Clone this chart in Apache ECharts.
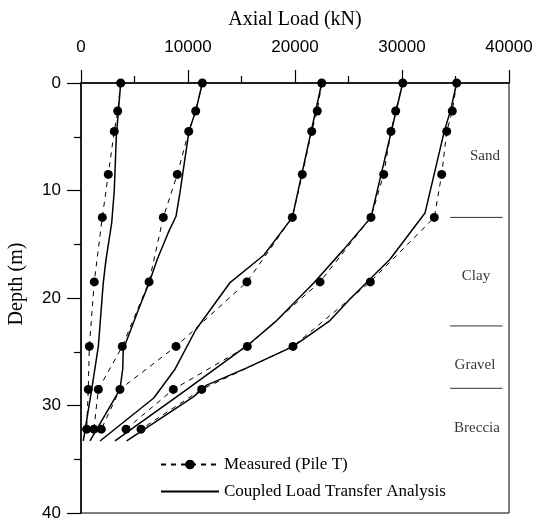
<!DOCTYPE html>
<html>
<head>
<meta charset="utf-8">
<script src="https://cdn.jsdelivr.net/npm/echarts@6/dist/echarts.min.js"></script>
<style>
html,body{margin:0;padding:0;background:#fff;}
#chart{width:543px;height:519px;}
</style>
</head>
<body>
<div id="chart"></div>
<script>
// ---- Data ----
const xTicks = [0, 10000, 20000, 30000, 40000];
const yTicks = [0, 10, 20, 30, 40];

// Measured (Pile T): depth levels (m) and axial loads (kN) for 5 load steps
const measuredDepths = [0, 2.6, 4.5, 8.5, 12.5, 18.5, 24.5, 28.5, 32.2];
const measured1 = [3710, 3430, 3110, 2550, 1990, 1240, 780, 680, 530];
const measured2 = [11340, 10720, 10070, 9000, 7690, 6360, 3860, 1620, 1210];
const measured3 = [22500, 22080, 21560, 20680, 19750, 15510, 8880, 3640, 1900];
const measured4 = [30070, 29410, 28970, 28290, 27100, 22340, 15540, 8630, 4210];
const measured5 = [35110, 34700, 34180, 33710, 33020, 27040, 19810, 11280, 5610];

// Coupled load transfer analysis curves
const computed1Depths = [0, 5, 10, 13, 16.4, 18.6, 24.5, 28.5, 33.3];
const computed1 = [3710, 3300, 3110, 2870, 2340, 2080, 1620, 1000, 215];
const computed2Depths = [0, 2.5, 4.5, 10.2, 12.4, 13.9, 16.4, 18.6, 21.1, 24.8, 26.6, 28.5, 33.3];
const computed2 = [11340, 10750, 10090, 9250, 8880, 8160, 7130, 6360, 5360, 3950, 3900, 3640, 840];
const computed3Depths = [0, 12.5, 16, 18.6, 23, 26.6, 29.3, 33.3];
const computed3 = [22500, 19750, 17100, 13900, 10700, 8800, 6800, 1780];
const computed4Depths = [0, 12.5, 15.5, 18.6, 22.1, 24.3, 28.5, 29.4, 33.3];
const computed4 = [30070, 27100, 24540, 21750, 18290, 15700, 9900, 8630, 3180];
const computed5Depths = [0, 2.5, 4.5, 12.1, 16.4, 20.1, 22.1, 24.5, 26.5, 28.1, 29.2, 33.3];
const computed5 = [35110, 34550, 33950, 32150, 28880, 25140, 23270, 19840, 15500, 11750, 10500, 4270];

// Soil layers
const soilNames = ['Sand', 'Clay', 'Gravel', 'Breccia'];
const soilLabelDepths = [6.8, 18.0, 26.2, 32.1];
const boundaryDepths = [12.5, 22.6, 28.4];

// ---- Build chart ----
const measured = [measured1, measured2, measured3, measured4, measured5];
const computedLoads = [computed1, computed2, computed3, computed4, computed5];
const computedDepths = [computed1Depths, computed2Depths, computed3Depths, computed4Depths, computed5Depths];

const SERIF = 'Liberation Serif';
const SANS = 'Liberation Sans';
const series = [];

measured.forEach(function (loads) {
  series.push({
    name: 'Measured (Pile T)',
    type: 'line',
    data: measuredDepths.map(function (d, i) { return [loads[i], d]; }),
    symbol: 'circle',
    symbolSize: 9,
    itemStyle: { color: '#000' },
    lineStyle: { color: '#000', width: 1, type: [5, 5] },
    z: 3,
    animation: false
  });
});
computedLoads.forEach(function (loads, k) {
  series.push({
    name: 'Coupled Load Transfer Analysis',
    type: 'line',
    data: computedDepths[k].map(function (d, i) { return [loads[i], d]; }),
    symbol: 'none',
    itemStyle: { color: '#000' },
    lineStyle: { color: '#000', width: 1.5 },
    z: 4,
    animation: false
  });
});
boundaryDepths.forEach(function (d) {
  series.push({
    type: 'line',
    data: [[34500, d], [39400, d]],
    symbol: 'none',
    lineStyle: { color: '#333', width: 1 },
    silent: true,
    animation: false
  });
});
const soilOffsets = [[7, 0], [-2, 0], [-3, 0], [-1, 0]];
series.push({
  type: 'scatter',
  symbolSize: 0,
  silent: true,
  animation: false,
  data: soilNames.map(function (n, i) {
    return { name: n, value: [37100, soilLabelDepths[i]], label: { offset: soilOffsets[i] } };
  }),
  label: {
    show: true,
    position: 'inside',
    formatter: '{b}',
    color: '#000',
    fontFamily: SERIF,
    fontSize: 15
  }
});

const chart = echarts.init(document.getElementById('chart'), null, { renderer: 'canvas' });
chart.setOption({
  animation: false,
  backgroundColor: '#fff',
  grid: {
    left: 81, top: 83, right: 34, bottom: 6,
    containLabel: false,
    outerBoundsMode: 'none',
    show: true, borderColor: '#000', borderWidth: 1, backgroundColor: 'transparent'
  },
  legend: {
    orient: 'vertical',
    left: 155,
    top: 451,
    itemWidth: 58,
    itemHeight: 12,
    itemGap: 10,
    data: [
      { name: 'Measured (Pile T)' },
      { name: 'Coupled Load Transfer Analysis', itemStyle: { opacity: 0 } }
    ],
    textStyle: { fontFamily: SERIF, fontSize: 17, color: '#000' }
  },
  xAxis: {
    type: 'value',
    position: 'top',
    min: xTicks[0],
    max: xTicks[xTicks.length - 1],
    interval: xTicks[1] - xTicks[0],
    name: 'Axial Load (kN)',
    nameLocation: 'middle',
    nameGap: 53,
    nameTextStyle: { fontFamily: SERIF, fontSize: 20, color: '#000' },
    axisLine: { show: true, onZero: false, lineStyle: { color: '#000', width: 1.5 } },
    axisTick: { show: true, inside: false, length: 13, lineStyle: { color: '#000', width: 1.2 } },
    minorTick: { show: true, splitNumber: 2, length: 7, lineStyle: { color: '#000', width: 1.2 } },
    splitLine: { show: false },
    axisLabel: { fontFamily: SANS, fontSize: 17, color: '#000', margin: 27, formatter: function (v) { return String(v); } }
  },
  yAxis: {
    type: 'value',
    inverse: true,
    min: yTicks[0],
    max: yTicks[yTicks.length - 1],
    interval: yTicks[1] - yTicks[0],
    name: 'Depth (m)',
    nameLocation: 'middle',
    nameGap: 54,
    nameTextStyle: { fontFamily: SERIF, fontSize: 20, color: '#000', padding: [0, 0, 0, 28] },
    axisLine: { show: true, onZero: false, lineStyle: { color: '#000', width: 1.5 } },
    axisTick: { show: true, inside: false, length: 14, lineStyle: { color: '#000', width: 1.2 } },
    minorTick: { show: true, splitNumber: 2, length: 7, lineStyle: { color: '#000', width: 1.2 } },
    splitLine: { show: false },
    axisLabel: { fontFamily: SANS, fontSize: 17, color: '#000', margin: 20, formatter: function (v) { return String(v); } }
  },
  series: series
});
</script>
</body>
</html>
